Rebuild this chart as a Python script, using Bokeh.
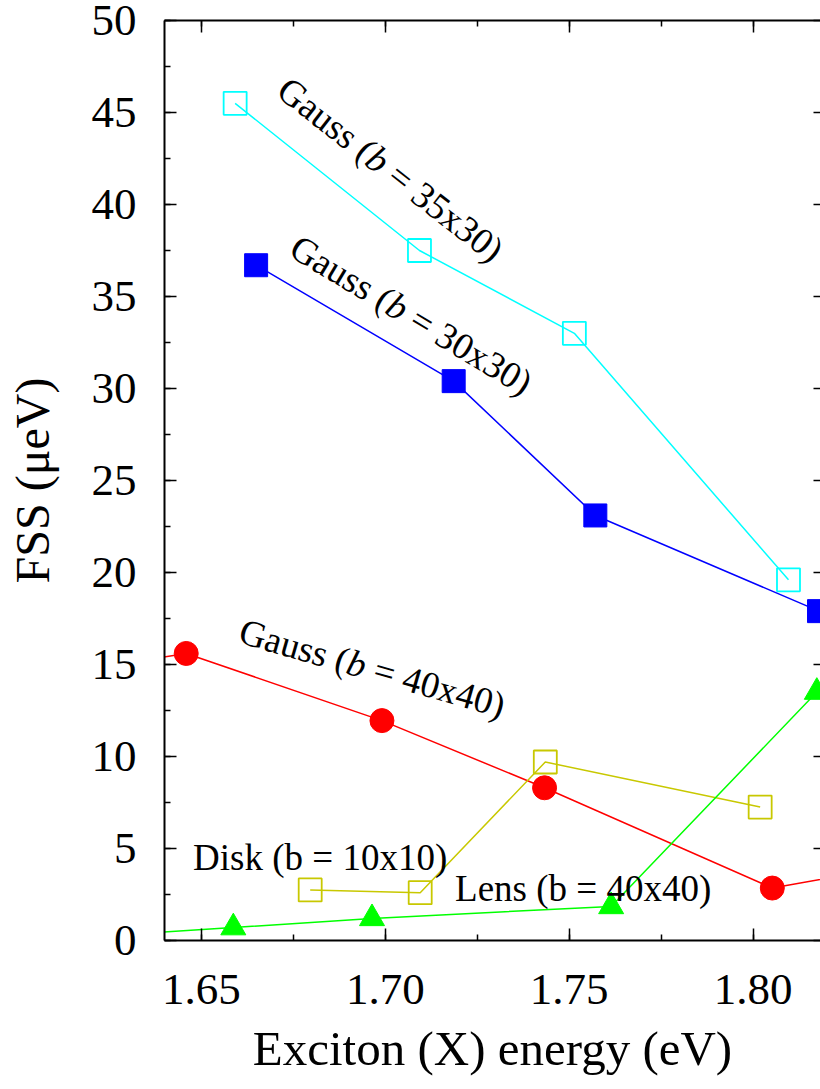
import math
from bokeh.plotting import figure
from bokeh.models import (Range1d, LinearAxis, SingleIntervalTicker,
                          NumeralTickFormatter, Label, CustomJSTickFormatter)
from bokeh.embed import file_html
from bokeh.resources import INLINE

# ---- data (exciton energy in eV, FSS in micro-eV) ----
x_gauss35 = [1.6592, 1.7093, 1.7514, 1.8096]
y_gauss35 = [45.5, 37.5, 33.0, 19.6]

x_gauss30 = [1.6649, 1.7186, 1.7571, 1.8179]
y_gauss30 = [36.7, 30.4, 23.1, 17.9]

x_gauss40 = [1.620, 1.6459, 1.6991, 1.7433, 1.8052, 1.860]
y_gauss40 = [14.8, 15.6, 11.95, 8.3, 2.85, 4.8]

x_disk = [1.6796, 1.7095, 1.7435, 1.8019]
y_disk = [2.75, 2.6, 9.7, 7.25]

x_lens = [1.620, 1.6587, 1.6964, 1.7614, 1.8173]
y_lens = [0.2, 0.7, 1.2, 1.85, 13.5]

x_label = "Exciton (X) energy (eV)"
y_label = "FSS (\u03bceV)"

FONT = "Liberation Serif"
X0, X1, Y0, Y1 = 1.64, 1.8183, 0, 50
FW, FH = 656, 920

p = figure(frame_width=FW, frame_height=FH, output_backend="svg",
           toolbar_location=None,
           x_range=Range1d(X0, X1), y_range=Range1d(Y0, Y1),
           min_border_left=164, min_border_right=0, min_border_top=20,
           min_border_bottom=0, x_axis_location=None, y_axis_location=None)
p.outline_line_color = None
p.xgrid.visible = False
p.ygrid.visible = False
p.background_fill_color = "white"
p.border_fill_color = "white"

blank = CustomJSTickFormatter(code="return '';")

def style_axis(ax, labels=True):
    ax.axis_line_width = 2
    ax.axis_line_color = "black"
    ax.major_tick_line_width = 1.5
    ax.minor_tick_line_width = 1.5
    ax.major_tick_line_color = "black"
    ax.minor_tick_line_color = "black"
    ax.major_tick_in = 12
    ax.major_tick_out = 0
    ax.minor_tick_in = 6
    ax.minor_tick_out = 0
    ax.major_label_text_font = FONT
    ax.major_label_text_color = "black"
    ax.major_label_text_font_size = "45px"
    if not labels:
        ax.formatter = blank
        ax.major_label_standoff = 0

xb = LinearAxis(ticker=SingleIntervalTicker(interval=0.05, num_minor_ticks=2),
                formatter=NumeralTickFormatter(format="0.00"))
style_axis(xb)
xb.major_label_standoff = 34
xb.axis_label = x_label
xb.axis_label_text_font = FONT
xb.axis_label_text_font_size = "49px"
xb.axis_label_text_font_style = "normal"
xb.axis_label_text_color = "black"
xb.axis_label_standoff = 14
p.add_layout(xb, "below")

xt = LinearAxis(ticker=SingleIntervalTicker(interval=0.05, num_minor_ticks=2))
style_axis(xt, labels=False)
p.add_layout(xt, "above")

yl = LinearAxis(ticker=SingleIntervalTicker(interval=5, num_minor_ticks=2))
style_axis(yl)
yl.major_label_standoff = 28
yl.axis_label = y_label
yl.axis_label_text_font = FONT
yl.axis_label_text_font_size = "48px"
yl.axis_label_text_font_style = "normal"
yl.axis_label_text_color = "black"
yl.axis_label_standoff = 30
p.add_layout(yl, "left")

yr = LinearAxis(ticker=SingleIntervalTicker(interval=5, num_minor_ticks=2))
style_axis(yr, labels=False)
yr.axis_line_color = None
yr.major_tick_in = 7
yr.minor_tick_in = 0
p.add_layout(yr, "right")

LW = 1.5
# Gauss 35x30 - cyan open squares
p.line(x_gauss35, y_gauss35, line_color="#00FFFF", line_width=LW)
p.scatter(x_gauss35, y_gauss35, marker="square", size=23, fill_color=None,
          line_color="#00FFFF", line_width=1.8)
# Gauss 30x30 - blue filled squares
p.line(x_gauss30, y_gauss30, line_color="#0000FF", line_width=LW)
p.scatter(x_gauss30, y_gauss30, marker="square", size=23, fill_color="#0000FF",
          line_color="#0000FF", line_width=1)
# Gauss 40x40 - red circles
p.line(x_gauss40, y_gauss40, line_color="#FF0000", line_width=LW)
p.scatter(x_gauss40, y_gauss40, marker="circle", size=24, fill_color="#FF0000",
          line_color="#FF0000", line_width=1)
# Disk 10x10 - olive open squares
p.line(x_disk, y_disk, line_color="#C8C800", line_width=LW)
p.scatter(x_disk, y_disk, marker="square", size=23, fill_color=None,
          line_color="#C8C800", line_width=1.8)
# Lens 40x40 - green triangles
p.line(x_lens, y_lens, line_color="#00FF00", line_width=LW)
p.scatter(x_lens, y_lens, marker="triangle", size=25, fill_color="#00FF00",
          line_color="#00FF00", line_width=1)

FS = 37
sx = FW / (X1 - X0)   # px per data unit (x)
sy = FH / (Y1 - Y0)   # px per data unit (y)
NB = "\u00a0"

def add_label(x, y, text, angle=0):
    p.add_layout(Label(x=x, y=y, text=text, angle=angle, angle_units="deg",
                       text_font=FONT, text_font_size=f"{FS}px",
                       text_align="center", text_baseline="middle",
                       text_color="black"))

def add_gauss_label(xc, yc, size_text, angle):
    # "Gauss (" + italic "b" + " = NNxNN)"; widths in em (Times metrics)
    parts = [("Gauss" + NB + "(", "normal", 3.027),
             ("b", "italic", 0.5),
             (NB + "=" + NB + size_text + ")", "normal",
              0.25 + 0.564 + 0.25 + 2.5 + 0.333)]
    total = sum(w for _, _, w in parts) * FS
    th = math.radians(angle)
    ux, uy = math.cos(th) / sx, math.sin(th) / sy
    d = -total / 2
    for txt, style, w in parts:
        p.add_layout(Label(x=xc + d * ux, y=yc + d * uy, text=txt,
                           angle=angle, angle_units="deg",
                           text_font=FONT, text_font_size=f"{FS}px",
                           text_font_style=style,
                           text_align="left", text_baseline="middle",
                           text_color="black"))
        d += w * FS

add_gauss_label(1.7015, 41.9, "35x30", -38)
add_gauss_label(1.7071, 34.0, "30x30", -31)
add_gauss_label(1.6965, 14.8, "40x40", -16)
add_label(1.6823, 4.5, "Disk (b = 10x10)")
add_label(1.7538, 2.85, "Lens (b = 40x40)")

open("out.html", "w").write(file_html(p, INLINE))
